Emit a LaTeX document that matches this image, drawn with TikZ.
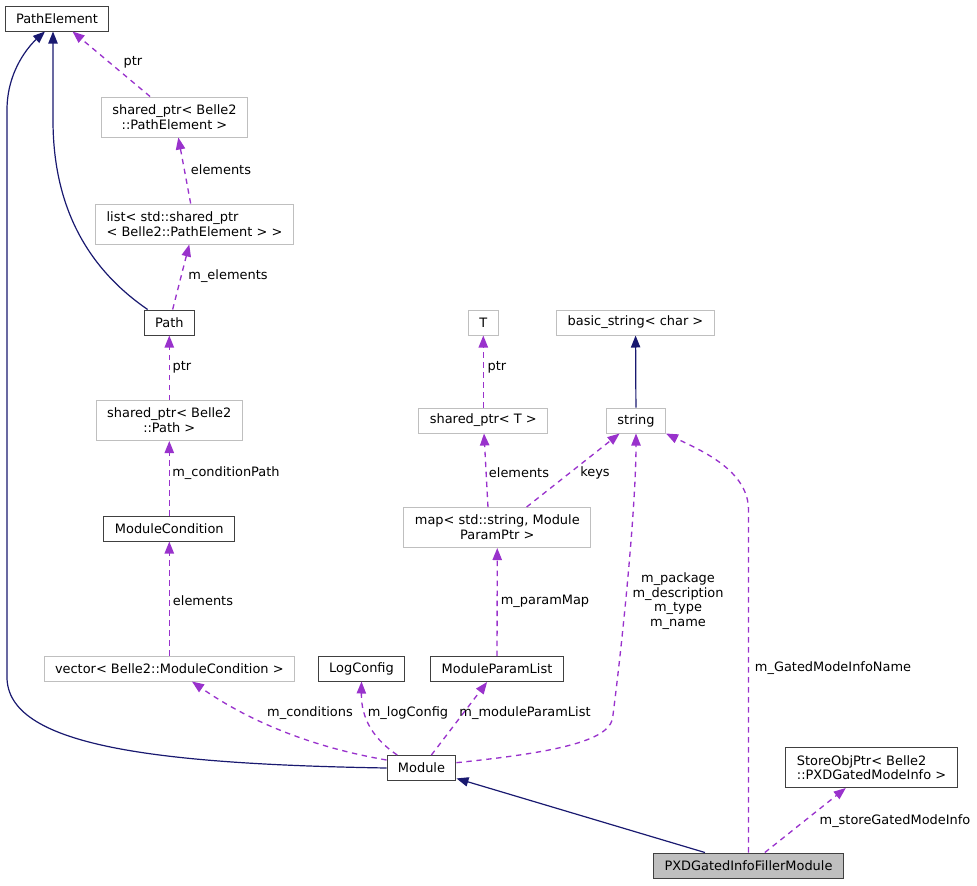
\documentclass[tikz,border=0pt]{standalone}
\usepackage{fontspec}
\setmainfont{DejaVu Sans}
\usetikzlibrary{arrows.meta}

\definecolor{inhblue}{RGB}{25,25,112}
\definecolor{usepurple}{RGB}{153,50,204}
\definecolor{extgrey}{RGB}{191,191,191}

\tikzset{
  cls/.style={draw=black!75, line width=0.75pt, minimum height=18.75pt, inner xsep=8.2pt, inner ysep=2pt, font=\fontsize{9.7}{11}\selectfont},
  extcls/.style={cls, draw=extgrey},
  curcls/.style={cls, fill=extgrey},
  dbl/.style={minimum height=30pt, align=center},
  dblleft/.style={minimum height=30pt, align=left},
  inh/.style={draw=inhblue, line width=0.9pt, -{Triangle[length=9pt,width=7pt]}, inhblue},
  use/.style={draw=usepurple, line width=1pt, dash pattern=on 4pt off 3.5pt, -{Triangle[length=9pt,width=7pt]}, usepurple},
  lbl/.style={font=\fontsize{9.7}{11}\selectfont, text=black, align=center, inner sep=0pt}
}

\begin{document}
\begin{tikzpicture}[x=0.75pt, y=-0.75pt]
\useasboundingbox (0,0) rectangle (977,885);

% classes
\node[cls] (pathelem) at (57,18.5) {PathElement};
\node[extcls, dbl] (sppathelem) at (174.5,117) {shared\_ptr< Belle2\\::PathElement >};
\node[extcls, dblleft] (listpathelem) at (194.5,224) {list< std::shared\_ptr\\< Belle2::PathElement > >};
\node[cls] (path) at (169.3,322.5) {Path};
\node[extcls, dbl] (sppath) at (169.3,420.5) {shared\_ptr< Belle2\\::Path >};
\node[cls] (modcond) at (169.3,528.5) {ModuleCondition};
\node[extcls] (veccond) at (169.3,668.5) {vector< Belle2::ModuleCondition >};
\node[cls] (logcfg) at (361.5,668.5) {LogConfig};
\node[cls] (paramlist) at (497,669) {ModuleParamList};
\node[extcls] (tparam) at (483.3,322.5) {T};
\node[extcls] (spt) at (483.3,420.5) {shared\_ptr< T >};
\node[extcls] (bstring) at (635.5,322.5) {basic\_string< char >};
\node[extcls] (str) at (636,420.5) {string};
\node[extcls, dbl] (parammap) at (497.3,527.5) {map< std::string, Module\\ParamPtr >};
\node[cls] (module) at (421.5,768) {Module};
\node[cls, dblleft] (storeptr) at (871.5,767.5) {StoreObjPtr< Belle2\\::PXDGatedModeInfo >};
\node[curcls] (filler) at (748.5,865.5) {PXDGatedInfoFillerModule};

% inheritance
\draw[inh] (module.west) .. controls (150,764) and (7,745) .. (7,677) -- (7,110)
  .. controls (7,70) and (30,45) .. ([xshift=-9pt]pathelem.south);
\draw[inh] ([xshift=3pt]path.north west) .. controls (90,270) and (53,210) .. (53,120) -- ([xshift=-3pt]pathelem.south);
\draw[inh] (str) -- (bstring);
\draw[inh] (filler) -- (module);

% usage
\draw[use] (sppathelem) -- (pathelem) node[lbl] at (133,62) {ptr};
\draw[use] (listpathelem) -- (sppathelem) node[lbl] at (221,170) {elements};
\draw[use] (path) -- (listpathelem) node[lbl] at (228,276) {m\_elements};
\draw[use] (sppath) -- (path) node[lbl] at (182,367) {ptr};
\draw[use] (modcond) -- (sppath) node[lbl] at (226,473) {m\_conditionPath};
\draw[use] (veccond) -- (modcond) node[lbl] at (203,601) {elements};
\draw[use] ([yshift=6pt]module.west) .. controls (300,745) and (240,715) .. ([xshift=17pt]veccond.south)
  node[lbl] at (310,713) {m\_conditions};
\draw[use] ([xshift=8pt]module.north west) .. controls (375,740) and (361,720) .. (logcfg.south)
  node[lbl] at (408,713) {m\_logConfig};
\draw[use] (module) -- (paramlist) node[lbl] at (525,713) {m\_moduleParamList};
\draw[use] ([yshift=4pt]module.east) .. controls (560,752) and (613,740) .. (613,715)
  .. controls (625,620) and (636,500) .. (str.south)
  node[lbl] at (678,601) {m\_package\\m\_description\\m\_type\\m\_name};
\draw[use] (paramlist) -- (parammap) node[lbl] at (545,601) {m\_paramMap};
\draw[use] ([xshift=-7pt]parammap.north) -- (spt) node[lbl] at (519,473) {elements};
\draw[use] ([xshift=22pt]parammap.north) -- (str) node[lbl] at (595,473) {keys};
\draw[use] (spt) -- (tparam) node[lbl] at (497,367) {ptr};
\draw[use] (filler.north) -- (748.5,510) .. controls (748.5,470) and (700,450) .. (str.south east)
  node[lbl] at (833,668) {m\_GatedModeInfoName};
\draw[use] (filler) -- (storeptr) node[lbl] at (895,821) {m\_storeGatedModeInfo};
\end{tikzpicture}
\end{document}
